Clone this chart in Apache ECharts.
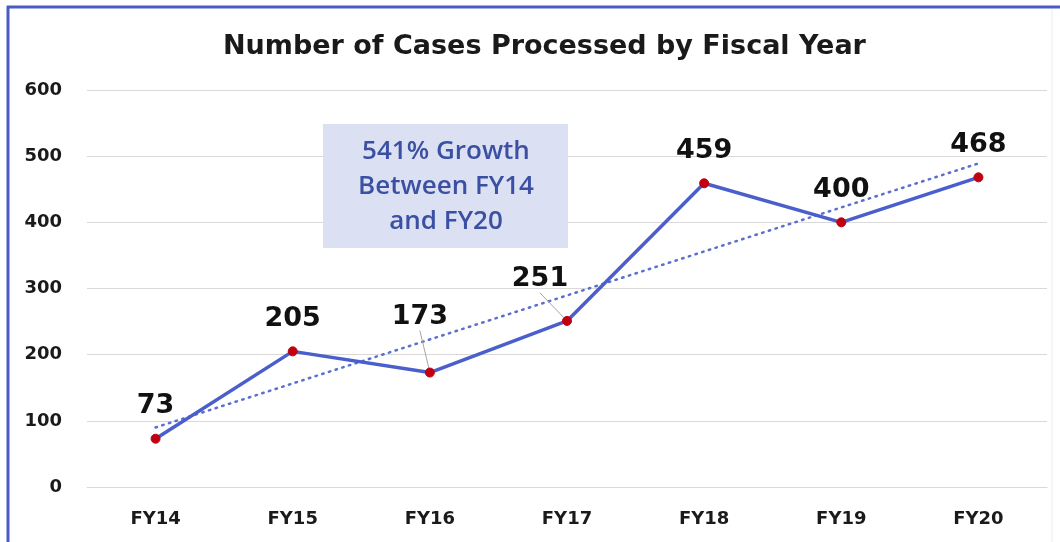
<!DOCTYPE html>
<html>
<head>
<meta charset="utf-8">
<script src="https://cdn.jsdelivr.net/npm/echarts@6/dist/echarts.min.js"></script>
<style>
  html, body { margin: 0; padding: 0; background: #fff; }
  #chart { width: 1060px; height: 542px; }
</style>
</head>
<body>
<div id="chart"></div>
<script>
// data
const years = ['FY14', 'FY15', 'FY16', 'FY17', 'FY18', 'FY19', 'FY20']
const cases = [73, 205, 173, 251, 459, 400, 468]
// dotted trend line, end points only
const trend = [90, null, null, null, null, null, 489]
const yTicks = [0, 100, 200, 300, 400, 500, 600]
const note = ['541% Growth', 'Between FY14', 'and FY20']

// labels that sit off their point with a leader line
const pulled = { 2: [-10, -23], 3: [-27, -9] }

const chart = echarts.init(document.getElementById('chart'), null, { renderer: 'canvas' })

const caseData = cases.map(function (v, i) {
  return {
    value: v,
    labelLine: { show: !!pulled[i], lineStyle: { color: '#a6a6a6', width: 1 } }
  }
})

const option = {
  backgroundColor: '#ffffff',
  animation: false,
  title: {
    text: 'Number of Cases Processed by Fiscal Year',
    left: 218,
    top: 28,
    textStyle: {
      fontFamily: 'DejaVu Sans',
      fontWeight: 'bold',
      fontSize: 27,
      color: '#1a1a1a'
    }
  },
  grid: { left: 87, right: 13, top: 90, bottom: 55 },
  xAxis: {
    type: 'category',
    data: years,
    boundaryGap: true,
    axisLine: { show: true, lineStyle: { color: '#d9d9d9', width: 1 } },
    axisTick: { show: false },
    axisLabel: {
      margin: 23,
      fontFamily: 'DejaVu Sans',
      fontWeight: 'bold',
      fontSize: 18,
      color: '#1a1a1a'
    }
  },
  yAxis: {
    type: 'value',
    min: yTicks[0],
    max: yTicks[yTicks.length - 1],
    interval: 100,
    axisLine: { show: false },
    axisTick: { show: false },
    splitLine: { lineStyle: { color: '#d9d9d9', width: 1 } },
    axisLabel: {
      margin: 25,
      fontFamily: 'DejaVu Sans',
      fontWeight: 'bold',
      fontSize: 18,
      color: '#1a1a1a'
    }
  },
  series: [
    {
      name: 'trend',
      type: 'line',
      data: trend,
      connectNulls: true,
      symbol: 'none',
      silent: true,
      lineStyle: { color: '#5a6fd0', width: 2.5, type: [1.5, 5.5], cap: 'round' },
      z: 1
    },
    {
      name: 'Cases',
      type: 'line',
      data: caseData,
      symbol: 'circle',
      symbolSize: 9,
      itemStyle: { color: '#c00010', borderColor: '#c00010' },
      lineStyle: { color: '#4a5fcc', width: 3.5 },
      label: {
        show: true,
        position: 'top',
        distance: 14,
        fontFamily: 'DejaVu Sans',
        fontWeight: 'bold',
        fontSize: 27,
        color: '#111'
      },
      labelLayout: function (p) {
        const d = pulled[p.dataIndex]
        if (d) return { dx: d[0], dy: d[1] }
        return {}
      },
      z: 2
    }
  ],
  graphic: [
    { type: 'line', shape: { x1: 7, y1: 7, x2: 1060, y2: 7 }, style: { stroke: '#4a5bc4', lineWidth: 3 } },
    { type: 'line', shape: { x1: 8, y1: 6, x2: 8, y2: 542 }, style: { stroke: '#4a5bc4', lineWidth: 3 } },
    { type: 'line', shape: { x1: 1052, y1: 9, x2: 1052, y2: 542 }, style: { stroke: '#ececec', lineWidth: 1 } },
    {
      type: 'group',
      left: 323,
      top: 124,
      z: 50,
      children: [
        { type: 'rect', z: 50, shape: { x: 0, y: 0, width: 245, height: 124 }, style: { fill: '#dbe0f3' } },
        {
          type: 'text',
          z: 51,
          style: {
            x: 123, y: 63,
            text: note.join('\n'),
            align: 'center',
            verticalAlign: 'middle',
            lineHeight: 35,
            fontFamily: 'Open Sans',
            fontWeight: 600,
            fontSize: 26,
            fill: '#3b50a3'
          }
        }
      ]
    }
  ]
}

chart.setOption(option)
</script>
</body>
</html>
